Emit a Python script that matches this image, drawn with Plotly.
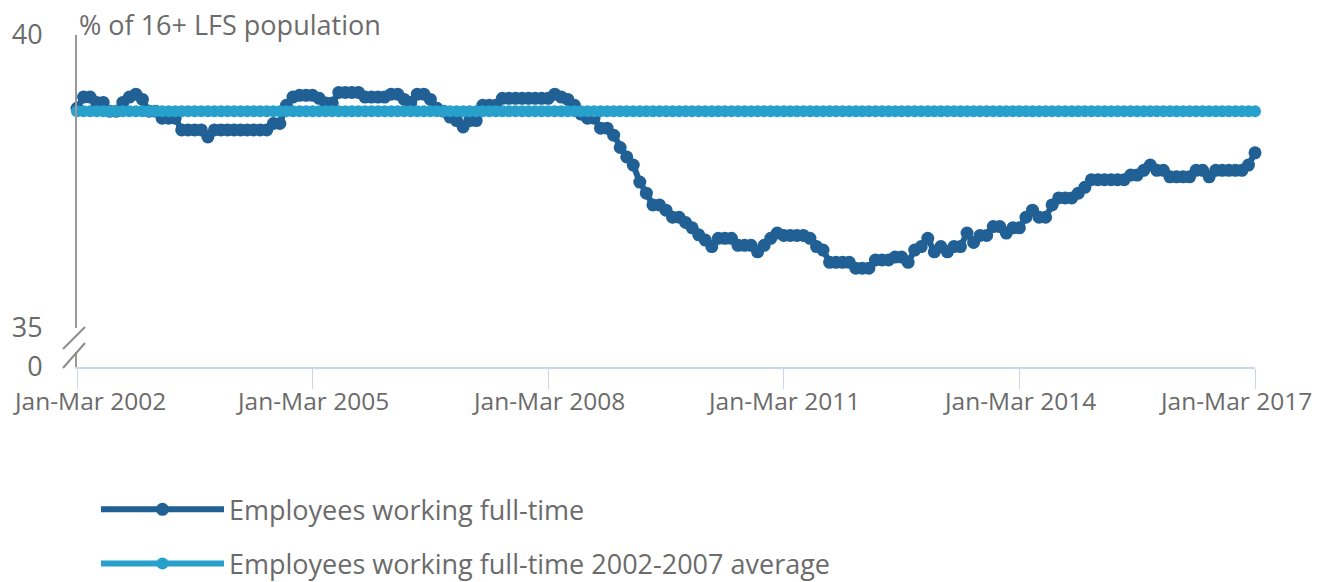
import plotly.graph_objects as go

MONTHS = ['Jan', 'Feb', 'Mar', 'Apr', 'May', 'Jun', 'Jul', 'Aug', 'Sep', 'Oct', 'Nov', 'Dec']

# rolling three-month periods, Jan-Mar 2002 .. Jan-Mar 2017
periods = []
for k in range(181):
    start = k % 12
    end = start + 2
    periods.append(f"{MONTHS[start]}-{MONTHS[end % 12]} {2002 + (k + 2) // 12}")

# % of 16+ population
full_time = [
    38.75, 38.94, 38.94, 38.85, 38.85, 38.7, 38.7, 38.85, 38.94, 38.99,     # 0-9
    38.9, 38.7, 38.7, 38.58, 38.58, 38.58, 38.38, 38.38, 38.38, 38.38,      # 10-19
    38.26, 38.38, 38.38, 38.38, 38.38, 38.38, 38.38, 38.38, 38.38, 38.38,   # 20-29
    38.49, 38.49, 38.8, 38.94, 38.97, 38.97, 38.97, 38.92, 38.84, 38.84,    # 30-39
    39.02, 39.02, 39.02, 39.02, 38.94, 38.94, 38.94, 38.94, 38.99, 38.99,   # 40-49
    38.9, 38.85, 38.99, 38.99, 38.9, 38.75, 38.7, 38.6, 38.54, 38.43,       # 50-59
    38.54, 38.54, 38.8, 38.8, 38.8, 38.92, 38.92, 38.92, 38.92, 38.92,      # 60-69
    38.92, 38.92, 38.92, 38.99, 38.94, 38.9, 38.8, 38.65, 38.58, 38.58,     # 70-79
    38.41, 38.41, 38.29, 38.08, 37.92, 37.78, 37.49, 37.3, 37.1, 37.1,      # 80-89
    37.01, 36.89, 36.89, 36.8, 36.71, 36.59, 36.5, 36.39, 36.53, 36.53,     # 90-99
    36.53, 36.41, 36.41, 36.41, 36.3, 36.41, 36.53, 36.62, 36.58, 36.58,    # 100-109
    36.58, 36.58, 36.53, 36.39, 36.33, 36.12, 36.12, 36.12, 36.12, 36.02,   # 110-119
    36.02, 36.02, 36.16, 36.16, 36.16, 36.21, 36.21, 36.12, 36.33, 36.39,   # 120-129
    36.53, 36.3, 36.39, 36.3, 36.39, 36.39, 36.62, 36.46, 36.58, 36.58,     # 130-139
    36.73, 36.73, 36.62, 36.71, 36.71, 36.89, 37.01, 36.89, 36.89, 37.1,    # 140-149
    37.22, 37.22, 37.22, 37.3, 37.4, 37.53, 37.53, 37.53, 37.53, 37.53,     # 150-159
    37.53, 37.61, 37.61, 37.69, 37.78, 37.69, 37.69, 37.58, 37.58, 37.58,   # 160-169
    37.58, 37.69, 37.69, 37.58, 37.69, 37.69, 37.69, 37.69, 37.69, 37.78,   # 170-179
    37.99,                                                                   # 180
]
assert len(full_time) == len(periods)

average_value = 38.7
average_2002_2007 = [average_value for _ in periods]

tick_labels = ['Jan-Mar 2002', 'Jan-Mar 2005', 'Jan-Mar 2008',
               'Jan-Mar 2011', 'Jan-Mar 2014', 'Jan-Mar 2017']

DARK = '#206095'
LIGHT = '#27a0cc'
TEXT = '#6b6b6b'
FONT = 'Open Sans, sans-serif'
FS = 27
TICK_FS = 24.5
MAIN_DOMAIN = [0.1175, 1]

fig = go.Figure()
fig.add_trace(go.Scatter(
    x=periods, y=full_time, name='Employees working full-time',
    mode='lines+markers', line=dict(color=DARK, width=6),
    marker=dict(color=DARK, size=13), cliponaxis=False,
    legendgroup='a', yaxis='y',
))
fig.add_trace(go.Scatter(
    x=periods, y=average_2002_2007, name='Employees working full-time 2002-2007 average',
    mode='lines+markers', line=dict(color=LIGHT, width=6),
    marker=dict(color=LIGHT, size=12), cliponaxis=False,
    legendgroup='b', yaxis='y',
))

# x tick labels as annotations so the end ones can sit inside the frame like the original
shifts = {0: 12, len(tick_labels) - 1: -20}
for n, lab in enumerate(tick_labels):
    fig.add_annotation(x=lab, xref='x', y=0, yref='y2', yanchor='top', yshift=-15,
                       xshift=shifts.get(n, 0), text=lab, showarrow=False,
                       font=dict(size=TICK_FS, color=TEXT, family=FONT))

# axis title above the plot
fig.add_annotation(x=0, xref='paper', y=1, yref='paper', xanchor='left', yanchor='bottom',
                   yshift=-10, text='% of 16+ LFS population', showarrow=False,
                   font=dict(size=FS, color=TEXT, family=FONT))

# axis break marks
for anchor, y0, y1 in [(MAIN_DOMAIN[0], -21, 1), (0, -1, 24)]:
    fig.add_shape(type='line', xref='paper', xsizemode='pixel', xanchor=0, x0=-14, x1=8,
                  yref='paper', ysizemode='pixel', yanchor=anchor, y0=y0, y1=y1,
                  line=dict(color='#8c8c8c', width=2))

fig.update_layout(
    width=1327, height=582,
    margin=dict(l=69, r=80, t=27, b=223, autoexpand=False),
    paper_bgcolor='white', plot_bgcolor='white',
    font=dict(family=FONT, size=FS, color=TEXT),
    showlegend=True,
    legend=dict(orientation='v', xref='container', yref='container', x=0.0663, y=0.18,
                xanchor='left', yanchor='top', itemwidth=123, tracegroupgap=16,
                traceorder='grouped', font=dict(size=FS, color=TEXT, family=FONT),
                bgcolor='rgba(0,0,0,0)'),
    xaxis=dict(type='category', anchor='y2', range=[0, len(periods) - 1],
               tickvals=tick_labels, showticklabels=False, ticks='outside',
               ticklen=20, tickcolor='#ccd6eb', tickwidth=1,
               showline=True, linecolor='#ccd6eb', linewidth=2,
               showgrid=False, zeroline=False),
    yaxis=dict(domain=MAIN_DOMAIN, range=[35, 40], tickvals=[35, 40],
               showgrid=True, gridcolor='#e6e6e6', gridwidth=1,
               showline=True, linecolor='#999999', linewidth=2,
               ticks='', ticklabelstandoff=27, zeroline=False,
               tickfont=dict(size=FS, color=TEXT)),
    yaxis2=dict(domain=[0, 0.045], range=[0, 1], tickvals=[0],
                showgrid=False, showline=True, linecolor='#999999', linewidth=2,
                ticks='', ticklabelstandoff=27, zeroline=False,
                tickfont=dict(size=FS, color=TEXT)),
)

fig.write_html("out.html")
